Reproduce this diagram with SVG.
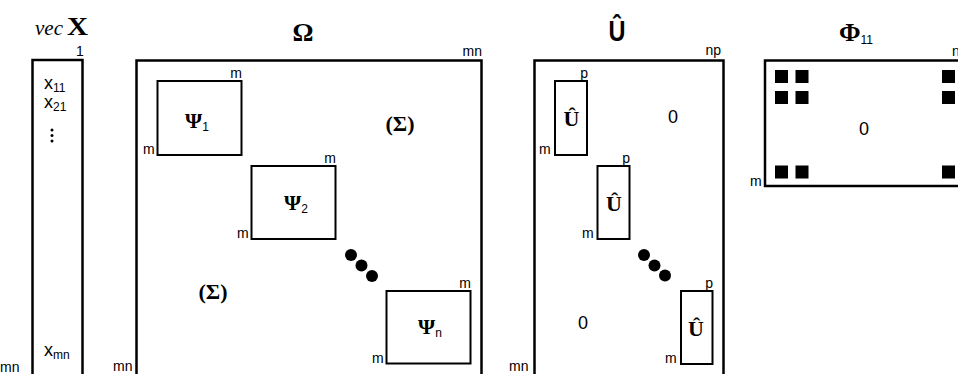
<svg xmlns="http://www.w3.org/2000/svg" width="958" height="374" viewBox="0 0 958 374">
<style>
  .box{fill:none;stroke:#000;stroke-width:2.5}
  .ibox{fill:none;stroke:#000;stroke-width:2}
  .sm{font-family:"Liberation Sans",Arial,sans-serif;font-size:14px;fill:#000}
  .num{font-family:"Liberation Sans",Arial,sans-serif;font-size:18px;fill:#000}
  .sub{font-family:"Liberation Sans",Arial,sans-serif;font-size:12px;font-weight:normal;fill:#000}
  .greek{font-family:"Liberation Serif","Times New Roman",serif;font-weight:bold;font-size:22px;fill:#000}
  .title{font-family:"Liberation Serif","Times New Roman",serif;font-weight:bold;font-size:26px;fill:#000}
  .sq{fill:#000}
</style>
<rect width="958" height="374" fill="#fff"/>

<g id="vecX">
  <text x="35" y="35" font-family="Liberation Serif, serif" font-style="italic" font-size="21" fill="#000">vec</text>
  <text x="67" y="35" class="title" font-size="21" textLength="21" lengthAdjust="spacingAndGlyphs">X</text>
  <rect class="box" x="32.5" y="60" width="50" height="318"/>
  <text x="76" y="56" class="sm" font-size="12">1</text>
  <text x="44" y="89" class="num">x<tspan class="sub" dy="3">11</tspan></text>
  <text x="44" y="108" class="num">x<tspan class="sub" dy="3">21</tspan></text>
  <circle cx="52" cy="130" r="1.5"/>
  <circle cx="52" cy="135.5" r="1.5"/>
  <circle cx="52" cy="141" r="1.5"/>
  <text x="44" y="356" class="num">x<tspan class="sub" dy="3">mn</tspan></text>
  <text x="0" y="372" class="sm">mn</text>
</g>

<g id="Omega">
  <text x="303" y="41" class="title" text-anchor="middle" textLength="21" lengthAdjust="spacingAndGlyphs">Ω</text>
  <rect class="box" x="136.5" y="60.5" width="345" height="318"/>
  <text x="482" y="56" class="sm" text-anchor="end">mn</text>
  <text x="113" y="371" class="sm">mn</text>
  <text x="400" y="131" class="greek" font-size="20" text-anchor="middle">(Σ)</text>
  <text x="213" y="299" class="greek" font-size="20" text-anchor="middle">(Σ)</text>
  <circle cx="351" cy="255" r="6"/>
  <circle cx="361.5" cy="265.5" r="6"/>
  <circle cx="372" cy="276" r="6"/>
</g>

<g id="Psi1">
  <rect class="ibox" x="157.5" y="81" width="84" height="74"/>
  <text x="242" y="78" class="sm" text-anchor="end">m</text>
  <text x="143" y="154" class="sm">m</text>
  <text x="185" y="128" class="greek">Ψ<tspan class="sub" dy="3">1</tspan></text>
</g>

<g id="Psi2">
  <rect class="ibox" x="251.5" y="166" width="84" height="73"/>
  <text x="336" y="163" class="sm" text-anchor="end">m</text>
  <text x="237" y="238" class="sm">m</text>
  <text x="284" y="210" class="greek">Ψ<tspan class="sub" dy="3">2</tspan></text>
</g>

<g id="Psin">
  <rect class="ibox" x="386.5" y="291" width="84" height="72.5"/>
  <text x="471" y="288" class="sm" text-anchor="end">m</text>
  <text x="372" y="363" class="sm">m</text>
  <text x="418" y="334" class="greek">Ψ<tspan class="sub" dy="3">n</tspan></text>
</g>

<g id="Uhat">
  <text x="617" y="41" font-family="Liberation Sans, Arial, sans-serif" font-weight="bold" font-size="30" fill="#000" text-anchor="middle" textLength="17" lengthAdjust="spacingAndGlyphs">Û</text>
  <rect class="box" x="534.5" y="60.5" width="189" height="318"/>
  <text x="721" y="55" class="sm" text-anchor="end">np</text>
  <text x="509" y="371" class="sm">mn</text>
  <text x="673" y="123" class="num" text-anchor="middle">0</text>
  <text x="583" y="329" class="num" text-anchor="middle">0</text>
  <circle cx="644" cy="255" r="6"/>
  <circle cx="654.5" cy="265.5" r="6"/>
  <circle cx="665" cy="275.5" r="6"/>
</g>

<g id="Ublock1">
  <rect class="ibox" x="555" y="81" width="32" height="74"/>
  <text x="588" y="78" class="sm" text-anchor="end">p</text>
  <text x="539" y="154" class="sm">m</text>
  <text x="571.5" y="126" class="greek" text-anchor="middle">Û</text>
</g>

<g id="Ublock2">
  <rect class="ibox" x="597.5" y="166" width="32" height="73"/>
  <text x="630" y="163" class="sm" text-anchor="end">p</text>
  <text x="582" y="238" class="sm">m</text>
  <text x="614" y="211" class="greek" text-anchor="middle">Û</text>
</g>

<g id="Ublock3">
  <rect class="ibox" x="681" y="291" width="31.5" height="73"/>
  <text x="713" y="288" class="sm" text-anchor="end">p</text>
  <text x="665" y="363" class="sm">m</text>
  <text x="696" y="336" class="greek" text-anchor="middle">Û</text>
</g>

<g id="Phi11">
  <text x="839" y="41" class="title" font-size="24">Φ<tspan class="sub" font-size="11" dy="3">11</tspan></text>
  <rect class="box" x="765" y="60.5" width="200" height="125.5"/>
  <text x="952" y="56" class="sm">n</text>
  <text x="750" y="186" class="sm">m</text>
  <text x="864" y="135" class="num" text-anchor="middle">0</text>
  <rect class="sq" x="775" y="70" width="13" height="13"/>
  <rect class="sq" x="795.5" y="70" width="13" height="13"/>
  <rect class="sq" x="942" y="70" width="13" height="13"/>
  <rect class="sq" x="775" y="91" width="13" height="13"/>
  <rect class="sq" x="795.5" y="91" width="13" height="13"/>
  <rect class="sq" x="942" y="91" width="13" height="13"/>
  <rect class="sq" x="775" y="165.5" width="13" height="13"/>
  <rect class="sq" x="795.5" y="165.5" width="13" height="13"/>
  <rect class="sq" x="942" y="165.5" width="13" height="13"/>
</g>

<g id="connectors"></g>
</svg>
